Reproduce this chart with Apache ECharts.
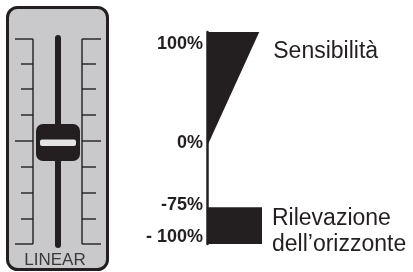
<!DOCTYPE html>
<html>
<head>
<meta charset="utf-8">
<script src="https://cdn.jsdelivr.net/npm/echarts@6/dist/echarts.min.js"></script>
<style>
  html, body { margin: 0; padding: 0; background: #fff; }
  #chart { width: 413px; height: 272px; }
</style>
</head>
<body>
<div id="chart"></div>
<script>
// scale labels and where they sit on the (schematic) drawing axis
const levelLabels = ['100%', '0%', '-75%', '- 100%']
const labelAt = [89.5, 3, -51, -79]

// Sensibilità: wedge growing from 0% up to 100%
const sensName = 'Sensibilità'
const sensShape = [[0, 0], [0, 100], [95, 100]]

// Rilevazione dell'orizzonte: band between -75% and -100%
const horizonName = 'Rilevazione\ndell’orizzonte'
const horizonShape = [[0, -53], [100, -53], [100, -85], [0, -85]]

const ink = '#231f20'
const font = '"Liberation Sans", Arial, sans-serif'

// fader tick rows (decoration on the left)
const faderTicks = [39, 64, 89, 115, 141, 167, 193, 219, 244]

const chart = echarts.init(document.getElementById('chart'))

const shapeSeries = (name, pts, labelPt, offset) => ({
  type: 'custom',
  name,
  data: [pts[0]],
  silent: true,
  renderItem: (params, api) => {
    const p = api.coord(labelPt)
    return {
      type: 'group',
      children: [
        {
          type: 'polygon',
          shape: { points: pts.map(d => api.coord(d)) },
          style: { fill: ink }
        },
        {
          type: 'text',
          x: p[0] + offset[0],
          y: p[1] + offset[1],
          style: {
            text: name,
            fill: ink,
            font: '23px ' + font,
            lineHeight: 26,
            verticalAlign: 'top'
          }
        }
      ]
    }
  }
})

const fader = []
fader.push({
  type: 'rect',
  shape: { x: 7.5, y: 7.5, width: 100, height: 262, r: 10 },
  style: { fill: '#c9c9cb', stroke: ink, lineWidth: 3 }
})
faderTicks.forEach((y, i) => {
  const long = i % 4 === 0
  fader.push({ type: 'line', shape: { x1: long ? 15 : 21, y1: y, x2: 33, y2: y }, style: { stroke: ink, lineWidth: 1.4 } })
  fader.push({ type: 'line', shape: { x1: 82, y1: y, x2: long ? 101 : 96, y2: y }, style: { stroke: ink, lineWidth: 1.4 } })
})
fader.push(
  { type: 'line', shape: { x1: 33, y1: 39, x2: 33, y2: 244 }, style: { stroke: ink, lineWidth: 1.4 } },
  { type: 'line', shape: { x1: 82, y1: 39, x2: 82, y2: 244 }, style: { stroke: ink, lineWidth: 1.4 } },
  { type: 'line', shape: { x1: 58, y1: 38, x2: 58, y2: 245 }, style: { stroke: ink, lineWidth: 6, lineCap: 'round' } },
  { type: 'rect', shape: { x: 36, y: 124, width: 44, height: 37, r: 7 }, style: { fill: ink } },
  { type: 'rect', shape: { x: 40, y: 139.5, width: 36, height: 6.5, r: 2 }, style: { fill: '#e4e4e4' } },
  {
    type: 'text', x: 55, y: 260,
    style: { text: 'LINEAR', fill: '#3a3a3a', font: '17px ' + font, align: 'center', verticalAlign: 'middle' }
  }
)

const option = {
  animation: false,
  grid: { left: 207, right: 151, top: 32, bottom: 28 },
  xAxis: { type: 'value', min: 0, max: 100, show: false },
  yAxis: {
    type: 'value',
    min: -85,
    max: 100,
    splitLine: { show: false },
    axisTick: { show: false },
    axisLine: { show: true, lineStyle: { color: ink, width: 2.5 } },
    axisLabel: {
      customValues: labelAt,
      formatter: v => levelLabels[labelAt.indexOf(v)],
      margin: 4,
      color: ink,
      fontFamily: font,
      fontSize: 18,
      fontWeight: 'bold'
    }
  },
  graphic: fader,
  series: [
    shapeSeries(sensName, sensShape, [95, 100], [14, 7]),
    shapeSeries(horizonName, horizonShape, [100, -53], [10, -2])
  ]
}
chart.setOption(option)
</script>
</body>
</html>
